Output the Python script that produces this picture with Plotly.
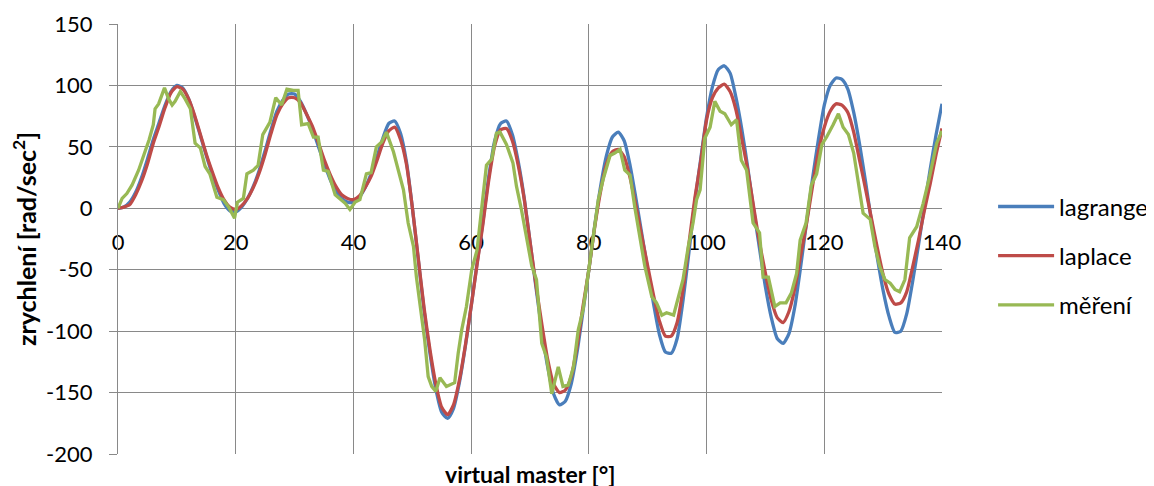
import plotly.graph_objects as go

# ---------------- data ----------------
angle = list(range(0, 141))

lagrange = [
    0, 1, 5, 13, 25, 40, 56, 70, 84, 95,
    100, 98, 89, 75, 59, 43, 28, 15, 4, -2,
    -3, 1, 8, 18, 31, 47, 64, 79, 88, 93,
    93, 87, 77, 65, 51, 37, 24, 14, 8, 5,
    5, 9, 17, 28, 42, 57, 69, 71, 61, 38,
    1, -41, -83, -118, -147, -166, -171, -163, -142, -113,
    -80, -45, -11, 26, 55, 69, 71, 60, 38, 9,
    -27, -64, -99, -129, -151, -160, -157, -143, -117, -84,
    -50, -14, 18, 43, 58, 62, 55, 35, 8, -21,
    -50, -78, -103, -117, -118, -106, -75, -36, 5, 40,
    74, 99, 113, 116, 110, 90, 64, 33, -1, -33,
    -64, -89, -106, -110, -102, -80, -47, -11, 24, 56,
    84, 100, 106, 105, 97, 78, 52, 22, -10, -40,
    -67, -88, -101, -100, -86, -60, -30, 1, 32, 60,
    85,
]

laplace = [
    0, 1, 3, 11, 22, 36, 53, 67, 82, 94,
    99, 97, 89, 76, 60, 44, 30, 17, 7, 1,
    -1, 2, 8, 17, 29, 44, 61, 76, 85, 90,
    90, 86, 77, 67, 54, 40, 28, 18, 11, 8,
    7, 10, 17, 26, 39, 53, 63, 66, 56, 36,
    1, -40, -81, -115, -143, -162, -168, -160, -140, -112,
    -80, -46, -13, 23, 51, 64, 65, 55, 35, 8,
    -27, -62, -94, -123, -143, -150, -148, -137, -112, -80,
    -50, -15, 14, 36, 46, 48, 42, 25, 2, -23,
    -47, -71, -92, -104, -104, -93, -66, -29, 8, 38,
    72, 90, 98, 101, 95, 80, 56, 31, 1, -28,
    -53, -75, -89, -93, -84, -65, -38, -12, 18, 46,
    66, 79, 85, 84, 78, 62, 39, 16, -8, -32,
    -54, -70, -78, -77, -68, -48, -26, -2, 20, 44,
    65,
]

meas_angle = [
    0.0, 0.7, 1.5, 2.4, 3.5, 4.6, 5.3, 6.0, 6.3, 6.9,
    7.9, 8.6, 9.2, 9.7, 10.6, 11.4, 12.3, 13.1, 14.0, 14.8,
    15.6, 16.8, 17.9, 18.8, 19.8, 20.3, 21.3, 21.9, 23.0, 23.8,
    24.6, 25.8, 26.8, 27.8, 28.7, 29.8, 30.6, 31.2, 32.3, 33.2,
    34.0, 34.9, 35.7, 36.9, 37.7, 38.6, 39.4, 40.3, 41.1, 42.2,
    43.0, 43.9, 44.8, 45.6, 46.8, 47.6, 48.5, 49.3, 50.2, 50.7,
    51.3, 52.1, 52.7, 53.3, 54.0, 54.7, 55.8, 57.2, 57.8, 58.4,
    59.2, 60.1, 61.0, 61.8, 62.6, 63.5, 64.3, 64.9, 66.0, 67.1,
    67.7, 68.5, 69.3, 70.3, 71.1, 72.0, 72.8, 73.7, 74.8, 75.6,
    76.5, 77.4, 78.2, 79.0, 79.9, 80.7, 81.6, 82.4, 83.6, 84.4,
    85.3, 86.1, 87.0, 87.8, 88.7, 89.5, 90.7, 91.5, 92.4, 93.2,
    94.4, 95.2, 96.0, 96.9, 97.7, 98.3, 98.9, 99.7, 100.6, 101.4,
    102.3, 103.1, 104.2, 105.1, 105.9, 106.8, 107.9, 109.0, 109.6, 110.5,
    111.6, 112.5, 113.5, 114.4, 115.3, 115.9, 116.9, 117.8, 118.7, 119.6,
    120.4, 121.5, 122.4, 123.2, 124.1, 125.0, 125.8, 126.6, 127.8, 128.6,
    129.4, 130.3, 131.2, 132.0, 132.8, 133.7, 134.5, 135.7, 136.8, 137.9,
    139.1, 140.0,
]

mereni = [
    0, 8, 12, 19, 31, 46, 56, 68, 81, 85,
    98, 89, 84, 87, 95, 89, 81, 53, 49, 34,
    28, 9, 7, 1, -8, 5, 8, 28, 31, 35,
    60, 70, 90, 84, 97, 96, 96, 68, 69, 58,
    58, 31, 30, 11, 8, 4, -1, 5, 7, 28,
    29, 50, 54, 62, 46, 31, 15, -12, -31, -56,
    -80, -107, -137, -145, -149, -138, -145, -142, -118, -99,
    -80, -50, -34, -1, 35, 40, 61, 62, 52, 37,
    18, 0, -22, -47, -58, -110, -121, -151, -129, -145,
    -144, -129, -99, -83, -53, -23, 7, 23, 43, 45,
    48, 31, 27, 1, -23, -47, -72, -77, -87, -85,
    -87, -73, -58, -31, -12, 7, 15, 57, 66, 87,
    79, 77, 68, 72, 39, 31, -12, -20, -56, -56,
    -80, -77, -77, -69, -53, -26, -12, 19, 28, 52,
    58, 68, 77, 66, 60, 45, 20, -4, -9, -31,
    -47, -58, -61, -66, -68, -58, -24, -15, 4, 26,
    53, 63,
]

series_names = ["lagrange", "laplace", "měření"]
colors = ["#4A7EBB", "#BE4B48", "#98B954"]

x_ticks = [0, 20, 40, 60, 80, 100, 120, 140]
y_ticks = [-200, -150, -100, -50, 0, 50, 100, 150]

# ---------------- figure ----------------
FONT = "Lato"
GRID = "#898989"

fig = go.Figure()
fig.add_trace(go.Scatter(x=angle, y=lagrange, mode="lines", name=series_names[0],
                         legendgroup="a",
                         line=dict(color=colors[0], width=3.3, shape="spline", smoothing=0.6)))
fig.add_trace(go.Scatter(x=angle, y=laplace, mode="lines", name=series_names[1],
                         legendgroup="b",
                         line=dict(color=colors[1], width=3.3, shape="spline", smoothing=0.6)))
fig.add_trace(go.Scatter(x=meas_angle, y=mereni, mode="lines", name=series_names[2],
                         legendgroup="c",
                         line=dict(color=colors[2], width=3.3)))

fig.update_layout(
    width=1154, height=486,
    margin=dict(l=110, r=220, t=16, b=40, autoexpand=False),
    paper_bgcolor="white", plot_bgcolor="white",
    font=dict(family=FONT, size=22, color="black"),
    showlegend=True,
    legend=dict(x=1.062, xanchor="left", y=0.627, yanchor="top",
                font=dict(family=FONT, size=24, color="black"),
                tracegroupgap=15, itemwidth=56, bgcolor="rgba(0,0,0,0)"),
    xaxis=dict(range=[0, 140], tickvals=x_ticks, ticktext=[str(v) for v in x_ticks],
               showgrid=True, gridcolor=GRID, gridwidth=1.3,
               zeroline=False, showline=True, linecolor=GRID, linewidth=1.3,
               anchor="free", position=200/350, ticks="", ticklabelstandoff=14,
               layer="below traces",
               tickfont=dict(family=FONT, size=22, color="black")),
    yaxis=dict(range=[-200, 150], tickvals=y_ticks, ticktext=[str(v) for v in y_ticks],
               showgrid=True, gridcolor=GRID, gridwidth=1.3,
               zeroline=False, showline=True, linecolor=GRID, linewidth=1.3,
               ticks="outside", ticklen=8, tickcolor=GRID, tickwidth=1.3,
               ticklabelstandoff=12,
               tickfont=dict(family=FONT, size=22, color="black"),
               title=dict(text="<b>zrychlení [rad/sec<sup>2</sup>]</b>",
                          font=dict(family=FONT, size=25, color="black"), standoff=7)),
    annotations=[dict(text="<b>virtual master [°]</b>", xref="paper", yref="paper",
                      x=0.5, y=0, xanchor="center", yanchor="middle", yshift=-20,
                      showarrow=False, font=dict(family=FONT, size=23, color="black"))],
)

fig.write_html("out.html")
